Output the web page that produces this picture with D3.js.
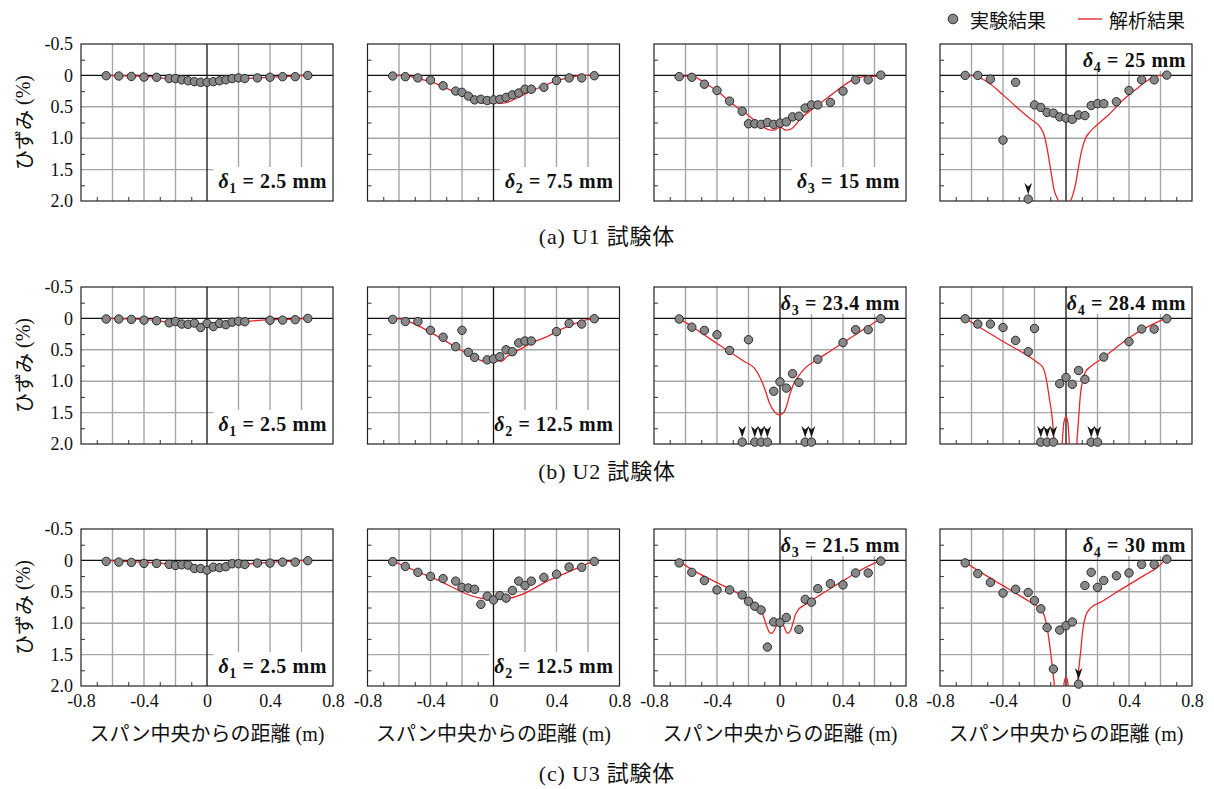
<!DOCTYPE html>
<html>
<head>
<meta charset="utf-8">
<script src="https://cdn.jsdelivr.net/npm/d3@7"></script>
<style>
  body { margin: 0; background: #fff; }
  svg { display: block; }
</style>
</head>
<body>
<svg id="chart" width="1214" height="789"></svg>
<script>
// Gauge positions measured from mid-span (m)
const sensorX = [-0.64, -0.56, -0.48, -0.40, -0.32, -0.24, -0.20, -0.16, -0.12, -0.08, -0.04, 0,
                 0.04, 0.08, 0.12, 0.16, 0.20, 0.24, 0.32, 0.40, 0.48, 0.56, 0.64];

// Measured strain (%) at each gauge, null = no reading shown
const expU1d1 = [0.005, 0.01, 0.016, 0.026, 0.03, 0.05, 0.05, 0.07, 0.085, 0.10, 0.11, 0.11, 0.10, 0.085, 0.07, 0.05, 0.04, 0.05, 0.04, 0.03, 0.02, 0.02, 0.0];
const expU1d2 = [0.01, 0.02, 0.04, 0.074, 0.165, 0.25, 0.27, 0.33, 0.39, 0.38, 0.40, 0.39, 0.38, 0.35, 0.31, 0.28, 0.22, 0.22, 0.19, 0.08, 0.04, 0.04, 0.005];
const expU1d3 = [0.02, 0.03, 0.14, 0.24, 0.41, 0.57, 0.77, 0.77, 0.78, 0.75, 0.78, 0.76, 0.74, 0.66, 0.65, 0.52, 0.47, 0.47, 0.43, 0.25, 0.07, 0.07, -0.005];
const expU1d4 = [0.0, 0.0, 0.06, 1.03, 0.11, null, 0.47, 0.51, 0.59, 0.60, 0.66, 0.68, 0.70, 0.63, 0.64, 0.48, 0.45, 0.45, 0.42, 0.24, 0.07, 0.07, -0.005];
const expU2d1 = [0.01, 0.01, 0.016, 0.027, 0.037, 0.07, 0.05, 0.09, 0.095, 0.075, 0.145, 0.08, 0.13, 0.08, 0.10, 0.06, 0.045, 0.053, null, 0.03, 0.027, 0.02, 0.0];
const expU2d2 = [0.016, 0.05, 0.05, 0.19, 0.30, 0.45, 0.19, 0.54, 0.62, null, 0.66, 0.645, 0.61, 0.50, 0.53, 0.39, 0.36, 0.36, null, 0.21, 0.08, 0.09, 0.005];
const expU2d3 = [0.01, 0.14, 0.19, 0.26, 0.51, null, 0.34, null, null, null, 1.16, 1.01, 1.11, 0.88, 1.02, null, null, 0.65, null, 0.385, 0.18, 0.18, 0.005];
const expU2d4 = [0.005, 0.09, 0.09, 0.145, 0.35, 0.53, 0.16, null, null, null, 1.04, 0.94, 1.05, 0.83, 0.97, null, null, 0.615, null, 0.37, 0.17, 0.17, 0.005];
const expU3d1 = [0.016, 0.027, 0.032, 0.048, 0.048, 0.064, 0.08, 0.07, 0.075, 0.13, 0.13, 0.155, 0.107, 0.117, 0.10, 0.053, 0.053, 0.064, 0.043, 0.043, 0.027, 0.027, 0.005];
const expU3d2 = [0.02, 0.096, 0.19, 0.255, 0.29, 0.33, 0.43, 0.44, 0.46, 0.70, 0.57, 0.63, 0.56, 0.60, 0.48, 0.33, 0.40, 0.33, 0.27, 0.22, 0.106, 0.11, 0.016];
const expU3d3 = [0.04, 0.19, 0.32, 0.47, 0.47, 0.55, 0.65, 0.73, 0.79, 1.38, 0.98, 0.99, 0.91, null, 1.10, 0.62, 0.665, 0.45, 0.37, 0.39, 0.20, 0.20, 0.01];
const expU3d4 = [0.04, 0.21, 0.35, 0.52, 0.46, 0.51, 0.64, 0.77, 1.07, 1.73, 1.11, 1.04, 0.98, null, 0.40, 0.19, 0.43, 0.32, 0.245, 0.20, 0.064, 0.064, -0.02];

// Gauges whose reading ran past the 2.0 % limit (plotted at the limit with an arrow)
const overU1d4 = [-0.24];
const overU2d3 = [-0.24, -0.16, -0.12, -0.08, 0.16, 0.20];
const overU2d4 = [-0.16, -0.12, -0.08, 0.16, 0.20];
const overU3d4 = [0.08];
const overLimit = 1.97;

// Analysis strain profiles [x (m), strain (%)]
const anaU1d1 = [[-0.64,0],[-0.48,0.01],[-0.32,0.03],[-0.24,0.06],[-0.16,0.10],[-0.08,0.13],[-0.04,0.135],[0,0.125],[0.08,0.11],[0.16,0.08],[0.24,0.05],[0.32,0.04],[0.40,0.03],[0.48,0.02],[0.56,0.01],[0.64,0]];
const anaU1d2 = [[-0.64,0],[-0.57,0],[-0.48,0.05],[-0.40,0.10],[-0.32,0.18],[-0.24,0.27],[-0.15,0.36],[-0.064,0.44],[-0.03,0.445],[0,0.43],[0.03,0.44],[0.064,0.44],[0.15,0.36],[0.24,0.25],[0.32,0.165],[0.40,0.085],[0.49,0.03],[0.57,0],[0.64,0]];
const anaU1d3 = [[-0.64,0.01],[-0.56,0.01],[-0.477,0.12],[-0.39,0.265],[-0.31,0.44],[-0.22,0.60],[-0.14,0.76],[-0.06,0.87],[-0.035,0.87],[0,0.82],[0.035,0.87],[0.065,0.86],[0.135,0.68],[0.24,0.47],[0.325,0.31],[0.41,0.15],[0.49,0.04],[0.557,0.015],[0.64,0.01]];
const anaU1d4 = [[-0.64,0],[-0.59,0.005],[-0.485,0.13],[-0.40,0.31],[-0.32,0.49],[-0.233,0.68],[-0.16,0.84],[-0.139,0.95],[-0.118,1.19],[-0.097,1.51],[-0.076,1.82],[-0.055,1.96],[-0.034,2.03],[0,2.06],[0.02,2.03],[0.04,1.93],[0.06,1.74],[0.08,1.45],[0.10,1.19],[0.124,1.0],[0.145,0.92],[0.187,0.81],[0.27,0.63],[0.355,0.41],[0.44,0.23],[0.525,0.07],[0.586,0.005],[0.634,0]];
const anaU2d1 = [[-0.64,0],[-0.48,0.01],[-0.32,0.035],[-0.24,0.065],[-0.16,0.09],[-0.08,0.11],[-0.04,0.12],[0,0.125],[0.04,0.12],[0.08,0.11],[0.16,0.07],[0.24,0.05],[0.40,0.02],[0.56,0.01],[0.64,0]];
const anaU2d2 = [[-0.64,0],[-0.57,0.02],[-0.477,0.12],[-0.38,0.25],[-0.297,0.37],[-0.212,0.50],[-0.127,0.61],[-0.06,0.68],[-0.03,0.68],[0,0.667],[0.03,0.675],[0.053,0.68],[0.085,0.61],[0.17,0.49],[0.254,0.38],[0.34,0.29],[0.424,0.18],[0.51,0.09],[0.594,0.02],[0.645,0]];
const anaU2d3 = [[-0.64,0],[-0.56,0.13],[-0.48,0.265],[-0.40,0.40],[-0.32,0.53],[-0.224,0.69],[-0.16,0.80],[-0.129,0.93],[-0.097,1.12],[-0.065,1.36],[-0.034,1.49],[-0.006,1.535],[0.019,1.51],[0.04,1.41],[0.061,1.22],[0.087,1.04],[0.114,0.93],[0.156,0.80],[0.24,0.65],[0.325,0.51],[0.41,0.37],[0.494,0.235],[0.578,0.10],[0.64,0]];
const anaU2d4 = [[-0.64,0],[-0.41,0.353],[-0.18,0.706],[-0.149,0.77],[-0.128,0.93],[-0.107,1.25],[-0.086,1.63],[-0.076,1.95],[-0.07,2.2],[-0.05,2.8],[-0.03,2.2],[-0.022,1.9],[-0.013,1.65],[0,1.57],[0.01,1.63],[0.019,1.9],[0.025,2.2],[0.045,2.8],[0.063,2.2],[0.071,1.9],[0.082,1.52],[0.092,1.2],[0.107,0.98],[0.124,0.85],[0.155,0.77],[0.229,0.64],[0.313,0.476],[0.397,0.315],[0.502,0.155],[0.586,0.05],[0.634,0]];
const anaU3d1 = [[-0.64,0],[-0.48,0.02],[-0.32,0.04],[-0.24,0.06],[-0.16,0.08],[-0.12,0.10],[-0.04,0.135],[0,0.14],[0.04,0.13],[0.08,0.12],[0.16,0.08],[0.24,0.06],[0.40,0.03],[0.56,0.01],[0.64,0]];
const anaU3d2 = [[-0.64,0.01],[-0.36,0.305],[-0.085,0.60],[-0.04,0.608],[0.04,0.608],[0.085,0.606],[0.365,0.303],[0.645,0]];
const anaU3d3 = [[-0.64,0.016],[-0.54,0.175],[-0.435,0.31],[-0.33,0.44],[-0.224,0.585],[-0.16,0.69],[-0.129,0.76],[-0.108,0.87],[-0.087,1.03],[-0.065,1.15],[-0.051,1.16],[-0.03,1.08],[-0.013,0.99],[0,0.96],[0.013,0.99],[0.03,1.08],[0.046,1.16],[0.065,1.13],[0.082,1.0],[0.097,0.87],[0.118,0.78],[0.156,0.71],[0.24,0.575],[0.325,0.44],[0.41,0.31],[0.515,0.15],[0.639,0]];
const anaU3d4 = [[-0.64,0.03],[-0.55,0.175],[-0.445,0.335],[-0.338,0.495],[-0.233,0.655],[-0.17,0.76],[-0.139,0.87],[-0.118,1.1],[-0.097,1.48],[-0.082,1.8],[-0.074,2.0],[-0.068,2.3],[-0.045,2.9],[-0.02,2.2],[-0.012,1.95],[0,1.86],[0.012,1.95],[0.02,2.2],[0.045,2.9],[0.066,2.3],[0.072,2.0],[0.078,1.8],[0.092,1.48],[0.107,1.1],[0.124,0.89],[0.155,0.76],[0.229,0.655],[0.313,0.52],[0.397,0.39],[0.502,0.23],[0.586,0.10],[0.634,-0.02]];

// Imposed displacement at each stage (mm)
const deltaU1 = ["2.5", "7.5", "15", "25"];
const deltaU2 = ["2.5", "12.5", "23.4", "28.4"];
const deltaU3 = ["2.5", "12.5", "21.5", "30"];

// Axis ticks
const xTickLabels = [-0.8, -0.4, 0, 0.4, 0.8];
const yTickLabels = [-0.5, 0, 0.5, 1.0, 1.5, 2.0];
const xGrid = [-0.6, -0.4, -0.2, 0.2, 0.4, 0.6];
const yGrid = [0.5, 1.0, 1.5];
const xMinor = [-0.7, -0.5, -0.3, -0.1, 0.1, 0.3, 0.5, 0.7];
const yMinor = [-0.25, 0.25, 0.75, 1.25, 1.75];

const captions = ["(a) U1 試験体", "(b) U2 試験体", "(c) U3 試験体"];
const xTitle = "スパン中央からの距離";
const yTitle = "ひずみ";
const legendLabels = ["実験結果", "解析結果"];

const panels = [
  { row: 0, col: 0, exp: expU1d1, over: [], ana: anaU1d1, sub: "1", delta: deltaU1[0], pos: "bottom" },
  { row: 0, col: 1, exp: expU1d2, over: [], ana: anaU1d2, sub: "2", delta: deltaU1[1], pos: "bottom" },
  { row: 0, col: 2, exp: expU1d3, over: [], ana: anaU1d3, sub: "3", delta: deltaU1[2], pos: "bottom" },
  { row: 0, col: 3, exp: expU1d4, over: overU1d4, ana: anaU1d4, sub: "4", delta: deltaU1[3], pos: "top" },
  { row: 1, col: 0, exp: expU2d1, over: [], ana: anaU2d1, sub: "1", delta: deltaU2[0], pos: "bottom" },
  { row: 1, col: 1, exp: expU2d2, over: [], ana: anaU2d2, sub: "2", delta: deltaU2[1], pos: "bottom" },
  { row: 1, col: 2, exp: expU2d3, over: overU2d3, ana: anaU2d3, sub: "3", delta: deltaU2[2], pos: "top" },
  { row: 1, col: 3, exp: expU2d4, over: overU2d4, ana: anaU2d4, sub: "4", delta: deltaU2[3], pos: "top" },
  { row: 2, col: 0, exp: expU3d1, over: [], ana: anaU3d1, sub: "1", delta: deltaU3[0], pos: "bottom" },
  { row: 2, col: 1, exp: expU3d2, over: [], ana: anaU3d2, sub: "2", delta: deltaU3[1], pos: "bottom" },
  { row: 2, col: 2, exp: expU3d3, over: [], ana: anaU3d3, sub: "3", delta: deltaU3[2], pos: "top" },
  { row: 2, col: 3, exp: expU3d4, over: overU3d4, ana: anaU3d4, sub: "4", delta: deltaU3[3], pos: "top" }
];

// Layout
const colLeft = [81, 367.5, 654, 940];
const rowTop = [44, 287, 529];
const pw = 252, ph = 157;
const serif = "'Liberation Serif', 'Noto Sans CJK JP', serif";
const cjk = "'Noto Sans CJK JP', sans-serif";
const RED = "#e8262b";
const GRID = "#a6a6a6";

// tick text with a plain hyphen for negatives
const tickFmt = d => d === 0 ? "0" : d3.format(".1f")(d).replace("\u2212", "-");

const svg = d3.select("#chart");
svg.append("rect").attr("width", 1214).attr("height", 789).attr("fill", "#fff");

const arrowPath = "M0,0 L-3.8,-11.5 L0,-8 L3.8,-11.5 Z";

panels.forEach((p, i) => {
  const left = colLeft[p.col], top = rowTop[p.row];
  const x = d3.scaleLinear().domain([-0.8, 0.8]).range([left, left + pw]);
  const y = d3.scaleLinear().domain([-0.5, 2.0]).range([top, top + ph]);
  const g = svg.append("g");

  const clipId = "clip" + i;
  g.append("clipPath").attr("id", clipId)
    .append("rect").attr("x", left).attr("y", top).attr("width", pw).attr("height", ph);

  // grid
  g.append("g").selectAll("line").data(xGrid).join("line")
    .attr("x1", d => x(d)).attr("x2", d => x(d)).attr("y1", top).attr("y2", top + ph)
    .attr("stroke", GRID).attr("stroke-width", 1.4);
  g.append("g").selectAll("line").data(yGrid).join("line")
    .attr("x1", left).attr("x2", left + pw).attr("y1", d => y(d)).attr("y2", d => y(d))
    .attr("stroke", GRID).attr("stroke-width", 1.4);

  // minor ticks (inward)
  const bAxis = g.append("g").attr("transform", `translate(0,${top + ph})`)
    .call(d3.axisBottom(x).tickValues(xMinor).tickSize(-4).tickFormat(""));
  const lAxis = g.append("g").attr("transform", `translate(${left},0)`)
    .call(d3.axisLeft(y).tickValues(yMinor).tickSize(-4).tickFormat(""));
  [bAxis, lAxis].forEach(a => {
    a.select(".domain").remove();
    a.selectAll("text").remove();
    a.selectAll("line").attr("stroke", "#333").attr("stroke-width", 1);
  });

  // delta label on a white patch
  const labelG = g.append("g");
  const patch = labelG.append("rect").attr("fill", "#fff");
  const lbl = labelG.append("text")
    .attr("font-family", serif).attr("font-weight", "bold").attr("font-size", 20)
    .attr("letter-spacing", 0.6)
    .attr("text-anchor", "end").attr("fill", "#111")
    .attr("x", left + pw - 6)
    .attr("y", p.pos === "bottom" ? top + ph - 13 : top + 23);
  lbl.append("tspan").attr("font-style", "italic").text("δ");
  lbl.append("tspan").attr("font-size", 14).attr("dy", 5).text(p.sub);
  lbl.append("tspan").attr("dy", -5).text(" = " + p.delta + " mm");
  const bb = lbl.node().getBBox();
  const boxH = p.pos === "bottom" ? 34 : 27;
  patch.attr("x", bb.x - 5).attr("width", left + pw - (bb.x - 5))
    .attr("y", p.pos === "bottom" ? top + ph - boxH : top)
    .attr("height", boxH);

  // zero lines
  g.append("line").attr("x1", x(0)).attr("x2", x(0)).attr("y1", top).attr("y2", top + ph)
    .attr("stroke", "#111").attr("stroke-width", 1.3);
  g.append("line").attr("x1", left).attr("x2", left + pw).attr("y1", y(0)).attr("y2", y(0))
    .attr("stroke", "#111").attr("stroke-width", 1.4);

  // frame
  g.append("rect").attr("x", left).attr("y", top).attr("width", pw).attr("height", ph)
    .attr("fill", "none").attr("stroke", "#222").attr("stroke-width", 1.2);

  // analysis curve
  const line = d3.line().x(d => x(d[0])).y(d => y(d[1])).curve(d3.curveMonotoneX);
  g.append("path").datum(p.ana).attr("d", line)
    .attr("clip-path", `url(#${clipId})`)
    .attr("fill", "none").attr("stroke", RED).attr("stroke-width", 1.3);

  // experimental points
  const pts = sensorX.map((sx, k) => ({ x: sx, v: p.exp[k] })).filter(d => d.v !== null);
  g.append("g").selectAll("circle").data(pts).join("circle")
    .attr("cx", d => x(d.x)).attr("cy", d => y(d.v)).attr("r", 4.2)
    .attr("fill", "#888").attr("stroke", "#2a2a2a").attr("stroke-width", 1);

  // readings beyond the limit
  const og = g.append("g");
  og.selectAll("circle").data(p.over).join("circle")
    .attr("cx", d => x(d)).attr("cy", y(overLimit)).attr("r", 4.2)
    .attr("fill", "#888").attr("stroke", "#2a2a2a").attr("stroke-width", 1);
  og.selectAll("path").data(p.over).join("path")
    .attr("d", arrowPath)
    .attr("transform", d => `translate(${x(d)},${y(overLimit) - 4.6})`)
    .attr("fill", "#151515");

  // tick labels
  if (p.col === 0) {
    const ya = g.append("g").attr("transform", `translate(${left},0)`)
      .call(d3.axisLeft(y).tickValues(yTickLabels).tickSize(0).tickPadding(8).tickFormat(tickFmt));
    ya.select(".domain").remove();
    ya.selectAll("text").attr("font-family", serif).attr("font-size", 18).attr("fill", "#111");
  }
  if (p.row === 2) {
    const xa = g.append("g").attr("transform", `translate(0,${top + ph})`)
      .call(d3.axisBottom(x).tickValues(xTickLabels).tickSize(0).tickPadding(8).tickFormat(tickFmt));
    xa.select(".domain").remove();
    xa.selectAll("text").attr("font-family", serif).attr("font-size", 18).attr("fill", "#111");

    const xt = svg.append("text").attr("x", left + pw / 2).attr("y", 741)
      .attr("text-anchor", "middle").attr("font-size", 20).attr("fill", "#111");
    xt.append("tspan").attr("font-family", cjk).text(xTitle);
    xt.append("tspan").attr("font-family", serif).text(" (m)");
  }
  if (p.col === 0) {
    const cy = top + ph / 2;
    const yt = svg.append("text")
      .attr("transform", `translate(23,${cy}) rotate(-90)`)
      .attr("text-anchor", "middle").attr("dominant-baseline", "central")
      .attr("font-size", 20).attr("fill", "#111");
    yt.append("tspan").attr("font-family", cjk).text(yTitle);
    yt.append("tspan").attr("font-family", serif).text(" (%)");
  }
});

// row captions
const captionY = [236, 471, 773];
captions.forEach((c, r) => {
  svg.append("text").attr("x", 607).attr("y", captionY[r])
    .attr("text-anchor", "middle").attr("dominant-baseline", "central")
    .attr("font-family", serif).attr("font-size", 22).attr("letter-spacing", 0.8)
    .attr("fill", "#111")
    .text(c);
});

// legend
const lg = svg.append("g");
lg.append("circle").attr("cx", 953).attr("cy", 19).attr("r", 4.8)
  .attr("fill", "#888").attr("stroke", "#2a2a2a").attr("stroke-width", 1);
lg.append("text").attr("x", 970).attr("y", 19).attr("dominant-baseline", "central")
  .attr("font-family", cjk).attr("font-size", 19).attr("fill", "#111").text(legendLabels[0]);
lg.append("line").attr("x1", 1078).attr("x2", 1102).attr("y1", 19).attr("y2", 19)
  .attr("stroke", RED).attr("stroke-width", 1.4);
lg.append("text").attr("x", 1109).attr("y", 19).attr("dominant-baseline", "central")
  .attr("font-family", cjk).attr("font-size", 19).attr("fill", "#111").text(legendLabels[1]);
</script>
</body>
</html>
